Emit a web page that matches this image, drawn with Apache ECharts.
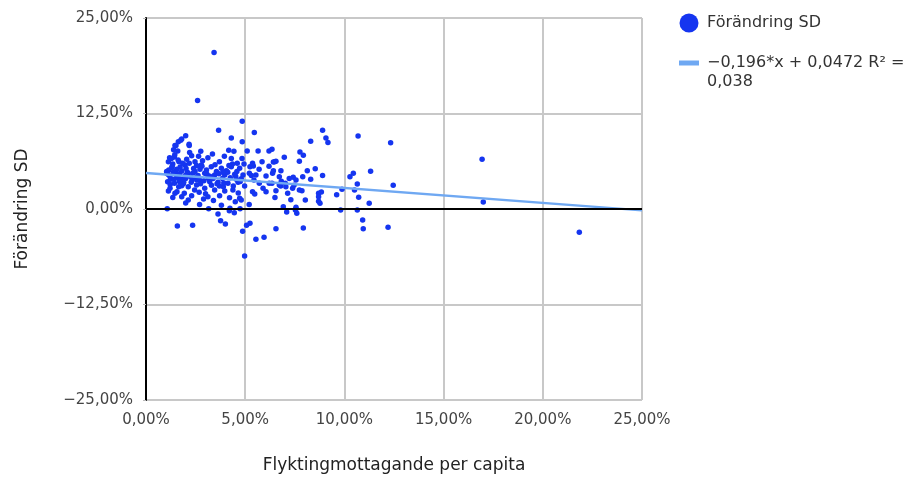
<!DOCTYPE html>
<html>
<head>
<meta charset="utf-8">
<script src="https://cdn.jsdelivr.net/npm/echarts@6/dist/echarts.min.js"></script>
<style>
html,body{margin:0;padding:0;background:#fff;}
#chart{width:905px;height:489px;}
</style>
</head>
<body>
<div id="chart"></div>
<script>
// Values in percent units: [Flyktingmottagande per capita, Förändring SD]
const pointsX = [
3.43,2.6,4.85,5.46,3.66,2.0,4.3,1.75,4.85,1.51,2.18,4.17,4.43,5.1,5.65,6.2,2.76,6.97,3.7,6.49,5.85,
8.9,9.07,9.17,8.3,10.69,12.33,6.35,7.76,7.93,7.73,6.42,6.55,5.41,5.24,4.94,8.13,8.53,8.3,8.9,6.42,
5.31,5.44,5.71,4.8,4.97,6.35,6.82,6.79,7.02,7.42,7.46,7.86,8.7,8.84,9.61,9.88,10.28,10.45,10.65,10.51,
10.72,11.32,11.25,12.46,4.74,5.48,8.03,8.7,8.77,6.92,7.09,7.6,7.56,9.81,10.65,10.92,10.95,12.2,7.93,
6.55,5.24,5.07,4.87,5.54,5.95,4.97,16.94,17.0,21.84,1.07,3.16,4.2,3.63,3.76,4.0,1.58,2.35,7.53,8.7,
1.8,1.63,1.46,2.17,1.39,1.6,1.19,1.43,2.3,2.47,1.13,1.66,1.97,1.3,1.04,1.5,1.8,2.13,2.47,1.21,1.63,
2.0,2.33,1.09,1.43,1.8,2.13,2.55,1.21,1.56,1.93,2.3,1.13,1.46,1.8,2.13,
3.12,4.84,4.3,2.79,3.29,3.8,4.3,4.72,2.96,3.46,3.97,4.47,4.89,2.7,3.21,3.63,4.13,4.64,2.96,3.46,3.97,
4.38,3.12,3.71,4.21,4.72,4.23,4.5,4.8,
5.37,5.21,5.54,6.05,6.38,6.72,7.22,7.56,7.9,6.21,6.72,7.05,7.39,7.73,6.05,6.55,7.14,5.37,7.56,1.04,
1.35,1.72,2.05,2.4,2.62,2.85,3.05,3.3,3.55,3.85,4.05,4.55,1.25,1.55,1.9,2.25,2.75,3.0,3.4,3.9,4.4,4.65,
1.65,2.45,2.9,1.15,1.45,2.2,2.65,3.35,3.95,4.6,1.85,2.55,3.15,3.7,4.25,4.75,1.35,2.0,2.7,3.8,4.45,
5.7,6.2,6.8,5.9,6.5,7.3,5.2,
1.12,1.28,1.42,1.55,1.7,1.88,2.08,2.28,2.52,2.72,2.92,3.22,3.48,3.68,3.92,4.12,4.36,4.58,
1.22,1.38,1.62,1.78,2.02,2.38,2.58,2.82,3.08,3.38,3.58,3.88,4.18,4.52,1.32,1.68,1.98,2.18,2.68,3.02
];
const pointsY = [
20.5,14.2,11.5,10.0,10.3,9.6,9.3,9.0,8.8,8.3,8.3,7.7,7.55,7.6,7.6,7.6,7.55,6.77,6.2,6.2,6.2,
10.3,9.3,8.7,8.86,9.55,8.68,7.81,7.46,7.03,6.24,6.15,6.24,5.63,5.54,5.89,5.01,5.28,3.89,4.4,5.01,
4.4,3.8,3.36,3.97,3.0,3.36,3.62,3.0,3.36,4.15,3.1,2.4,2.05,2.22,1.87,2.6,4.23,4.67,3.27,2.49,
1.53,4.93,0.75,3.1,0.04,1.96,1.18,1.0,0.75,0.3,-0.39,-0.57,0.04,-0.13,-0.13,-1.44,-2.58,-2.4,-2.49,
-2.58,-1.87,-2.13,-2.92,-3.97,-3.7,-6.15,6.5,0.92,-3.05,0.04,0.04,-0.22,-0.65,-1.53,-1.96,-2.22,-2.13,-0.13,1.61,
9.16,8.8,8.3,8.47,7.76,7.6,6.7,6.8,6.97,6.2,6.2,6.2,5.76,5.4,4.9,4.9,4.97,4.67,4.9,4.23,4.1,
4.0,3.8,3.57,3.36,3.05,2.92,3.14,2.7,2.27,2.05,1.74,2.36,2.05,1.6,1.18,
6.7,6.6,6.6,5.76,5.54,5.32,5.54,5.32,4.67,4.45,4.45,4.54,4.45,3.8,3.57,3.49,3.36,3.49,2.7,2.49,2.36,
2.49,1.6,1.74,1.48,1.4,0.09,0.96,1.18,
5.98,4.67,4.45,4.32,4.67,4.23,4.0,3.8,4.23,3.36,3.14,2.92,2.7,2.49,2.27,2.4,2.05,2.27,0.22,4.67,
5.9,5.5,6.5,5.3,4.4,6.3,5.1,3.1,4.9,4.0,5.0,3.9,3.9,4.4,3.5,4.2,3.3,2.0,1.1,2.9,3.0,2.1,
2.9,2.5,1.3,5.1,7.1,7.4,6.9,7.2,6.9,6.0,6.0,5.7,4.0,3.0,4.1,3.6,1.5,0.8,0.6,0.5,-0.5,
5.2,5.6,5.0,2.7,1.5,1.2,0.6,
4.5,6.6,3.9,5.2,4.6,3.3,4.8,3.5,4.1,5.2,3.7,4.3,5.8,4.6,3.4,4.8,5.9,4.9,
3.2,4.8,6.4,3.9,5.3,4.7,3.8,5.6,4.5,4.0,3.3,4.8,5.7,4.3,5.6,3.6,4.4,6.0,2.2,4.7
];
// Trend line: y = -0.196*x + 0.0472 (fractions) -> in percent units
const trendX = [0, 25];
const trendY = [4.72, -0.18];
const xTicks = {min: 0, max: 25, interval: 5};
const yTicks = {min: -25, max: 25, interval: 12.5};
const scatterName = 'Förändring SD';
const trendName = '\u22120,196*x + 0,0472 R\u00b2 =';
const trendName2 = '0,038';
const xTitle = 'Flyktingmottagande per capita';
const yTitle = 'Förändring SD';

const scatterData = pointsX.map((x, i) => [x, pointsY[i]]);
const trendData = trendX.map((x, i) => [x, trendY[i]]);
const fmt = v => (v < 0 ? '\u2212' : '') + Math.abs(v).toFixed(2).replace('.', ',') + '%';
const FONT = 'DejaVu Sans';

const chart = echarts.init(document.getElementById('chart'), null, {renderer: 'canvas'});
chart.setOption({
  animation: false,
  backgroundColor: '#fff',
  textStyle: {fontFamily: FONT},
  grid: {left: 146, top: 18, width: 496, height: 382},
  legend: {
    orient: 'vertical', left: 674, top: 8, itemWidth: 20, itemHeight: 19, itemGap: 20,
    textStyle: {fontFamily: FONT, fontSize: 16, color: '#333', lineHeight: 20, padding: [0, 0, 0, 3]},
    data: [
      {name: scatterName, icon: 'circle'},
      {name: trendName, icon: 'path://M0,0h16v4h-16z'}
    ]
  },
  graphic: [{type: 'text', left: 707, top: 74,
    style: {text: trendName2, font: '16px "DejaVu Sans"', fill: '#333'}}],
  xAxis: {
    type: 'value', min: xTicks.min, max: xTicks.max, interval: xTicks.interval,
    name: xTitle, nameLocation: 'middle', nameGap: 57,
    nameTextStyle: {fontFamily: FONT, fontSize: 17, color: '#222'},
    axisLine: {show: false}, axisTick: {show: false},
    axisLabel: {formatter: fmt, fontFamily: FONT, fontSize: 15, color: '#444', margin: 13},
    splitLine: {show: true, lineStyle: {color: '#c8c8c8', width: 2}}
  },
  yAxis: {
    type: 'value', min: yTicks.min, max: yTicks.max, interval: yTicks.interval,
    name: yTitle, nameLocation: 'middle', nameGap: 115, nameRotate: 90,
    nameTextStyle: {fontFamily: FONT, fontSize: 17, color: '#222'},
    axisLine: {show: true, onZero: false, lineStyle: {color: '#000', width: 2}},
    axisTick: {show: true, length: 3, lineStyle: {color: '#bbb'}},
    axisLabel: {formatter: fmt, fontFamily: FONT, fontSize: 15, color: '#444', margin: 13},
    splitLine: {show: true, lineStyle: {color: '#c8c8c8', width: 2}}
  },
  series: [
    {
      name: scatterName, type: 'scatter', data: scatterData, symbolSize: 5.5,
      itemStyle: {color: '#1535f0', opacity: 1},
      markLine: {silent: true, symbol: 'none', label: {show: false},
        lineStyle: {color: '#000', width: 2, type: 'solid'}, data: [{yAxis: 0}]},
      z: 3
    },
    {
      name: trendName, type: 'line', data: trendData, showSymbol: false, symbol: 'none',
      lineStyle: {color: '#6fa8f2', width: 2.5}, itemStyle: {color: '#6fa8f2'}, z: 4
    }
  ]
});
</script>
</body>
</html>
